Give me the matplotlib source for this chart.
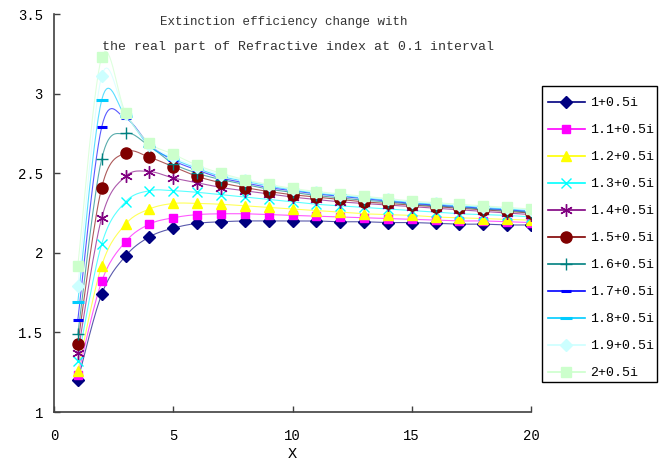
import numpy as np
import matplotlib
matplotlib.use("Agg")
import matplotlib.pyplot as plt
from matplotlib.patches import Rectangle

x = list(range(1, 21))
labels = ["1+0.5i", "1.1+0.5i", "1.2+0.5i", "1.3+0.5i", "1.4+0.5i", "1.5+0.5i",
          "1.6+0.5i", "1.7+0.5i", "1.8+0.5i", "1.9+0.5i", "2+0.5i"]

s10 = [1.20, 1.74, 1.98, 2.10, 2.155, 2.185, 2.195, 2.20, 2.20, 2.20, 2.20, 2.195, 2.195, 2.19, 2.19, 2.185, 2.18, 2.18, 2.175, 2.175]
s11 = [1.23, 1.82, 2.07, 2.18, 2.22, 2.24, 2.245, 2.245, 2.24, 2.235, 2.23, 2.225, 2.22, 2.215, 2.21, 2.205, 2.20, 2.20, 2.195, 2.19]
s12 = [1.26, 1.92, 2.18, 2.275, 2.31, 2.31, 2.305, 2.295, 2.285, 2.275, 2.265, 2.255, 2.245, 2.24, 2.235, 2.225, 2.22, 2.215, 2.21, 2.205]
s13 = [1.32, 2.055, 2.32, 2.39, 2.39, 2.38, 2.365, 2.35, 2.335, 2.32, 2.305, 2.295, 2.285, 2.275, 2.265, 2.255, 2.245, 2.24, 2.235, 2.225]
s14 = [1.37, 2.22, 2.48, 2.51, 2.47, 2.44, 2.41, 2.39, 2.37, 2.35, 2.335, 2.32, 2.31, 2.30, 2.29, 2.28, 2.27, 2.26, 2.25, 2.24]
s15 = [1.43, 2.41, 2.63, 2.60, 2.54, 2.48, 2.44, 2.41, 2.385, 2.365, 2.35, 2.335, 2.32, 2.31, 2.30, 2.29, 2.28, 2.27, 2.26, 2.25]
s16 = [1.49, 2.59, 2.75, 2.67, 2.56, 2.50, 2.46, 2.43, 2.40, 2.38, 2.36, 2.345, 2.33, 2.32, 2.305, 2.295, 2.285, 2.275, 2.265, 2.255]
s17 = [1.58, 2.79, 2.845, 2.68, 2.58, 2.52, 2.47, 2.44, 2.41, 2.39, 2.37, 2.355, 2.34, 2.325, 2.31, 2.30, 2.29, 2.28, 2.27, 2.26]
s18 = [1.69, 2.96, 2.86, 2.67, 2.59, 2.53, 2.48, 2.45, 2.42, 2.395, 2.375, 2.36, 2.345, 2.33, 2.315, 2.305, 2.295, 2.285, 2.275, 2.265]
s19 = [1.79, 3.11, 2.87, 2.68, 2.60, 2.54, 2.49, 2.455, 2.425, 2.40, 2.38, 2.365, 2.35, 2.335, 2.32, 2.31, 2.30, 2.29, 2.28, 2.27]
s20 = [1.92, 3.23, 2.88, 2.69, 2.62, 2.55, 2.50, 2.46, 2.43, 2.405, 2.385, 2.37, 2.355, 2.34, 2.325, 2.315, 2.305, 2.295, 2.285, 2.275]
series = [s10, s11, s12, s13, s14, s15, s16, s17, s18, s19, s20]

colors = ["#000080", "#FF00FF", "#FFFF00", "#00FFFF", "#800080", "#800000",
          "#008080", "#0000FF", "#00CCFF", "#CCFFFF", "#CCFFCC"]
markers = ["D", "s", "^", "x", (6, 2, 0), "o", "+", "_", "_", "D", "s"]
msizes = [6, 6, 7, 7, 9, 8, 9, 7, 9, 6, 7]

xticks = [0, 5, 10, 15, 20]
yticks = [1, 1.5, 2, 2.5, 3, 3.5]
ytick_labels = ["1", "1.5", "2", "2.5", "3", "3.5"]
title_lines = ["Extinction efficiency change with",
               "the real part of Refractive index at 0.1 interval"]

FONT = "Liberation Mono"


def smooth(xs, ys, n=16):
    # Bezier smoothing like spreadsheet "smoothed line" rendering
    xs = np.asarray(xs, float)
    ys = np.asarray(ys, float)
    P = np.column_stack([xs, ys])
    out = [P[0]]
    for i in range(len(P) - 1):
        p0 = P[i - 1] if i > 0 else P[i]
        p1 = P[i]
        p2 = P[i + 1]
        p3 = P[i + 2] if i + 2 < len(P) else P[i + 1]
        c1 = p1 + (p2 - p0) / 6.0
        c2 = p2 - (p3 - p1) / 6.0
        t = np.linspace(0, 1, n)[1:, None]
        seg = ((1 - t) ** 3) * p1 + 3 * ((1 - t) ** 2) * t * c1 + 3 * (1 - t) * t ** 2 * c2 + t ** 3 * p2
        out.extend(seg)
    out = np.array(out)
    return out[:, 0], out[:, 1]


fig = plt.figure(figsize=(6.64, 4.62), dpi=100)
ax = fig.add_axes([54 / 664, 1 - 412 / 462, (531 - 54) / 664, (412 - 14) / 462])

handles = []
for ys, c, m, ms, lab in zip(series, colors, markers, msizes, labels):
    sx, sy = smooth(x, ys)
    ax.plot(sx, sy, color=c, lw=0.8, alpha=0.65, zorder=2)
    mew = 2.2 if m == "_" else 1.0
    ax.plot(x, ys, linestyle="none", marker=m, color=c, markersize=ms,
            markeredgewidth=mew, zorder=3)
    h, = ax.plot([], [], color=c, lw=1.2, alpha=1, marker=m, markersize=ms, markeredgewidth=mew)
    handles.append(h)

ax.set_xlim(0, 20)
ax.set_ylim(1, 3.5)
ax.set_xticks(xticks)
ax.set_xticklabels([str(t) for t in xticks], fontfamily=FONT, fontsize=10)
ax.set_yticks(yticks)
ax.set_yticklabels(ytick_labels, fontfamily=FONT, fontsize=10)
ax.tick_params(direction="in", length=4, width=1, color="#404040", pad=12)
ax.tick_params(axis="y", pad=8)
for side in ["top", "right"]:
    ax.spines[side].set_visible(False)
for side in ["left", "bottom"]:
    ax.spines[side].set_color("#404040")
    ax.spines[side].set_linewidth(1.2)
ax.set_xlabel("X", fontfamily=FONT, fontsize=11, labelpad=3)

fig.text(284 / 664, 1 - 25 / 462, title_lines[0],
         ha="center", va="baseline", fontfamily=FONT, fontsize=9.0, color="#333333")
fig.text(298 / 664, 1 - 50 / 462, title_lines[1],
         ha="center", va="baseline", fontfamily=FONT, fontsize=9.5, color="#333333")

leg = fig.legend(handles, labels, loc="upper left", bbox_to_anchor=(542 / 664, 1 - 91 / 462),
                 prop={"family": FONT, "size": 9.5}, frameon=False,
                 handlelength=2.8, labelspacing=1.12,
                 borderpad=0.45, handletextpad=0.38, borderaxespad=0)
fig.patches.append(Rectangle((542 / 664, 1 - 382 / 462), 115 / 664, 296 / 462,
                             transform=fig.transFigure, fill=False, ec="black", lw=1.0))

fig.savefig("out.png", dpi=100)
